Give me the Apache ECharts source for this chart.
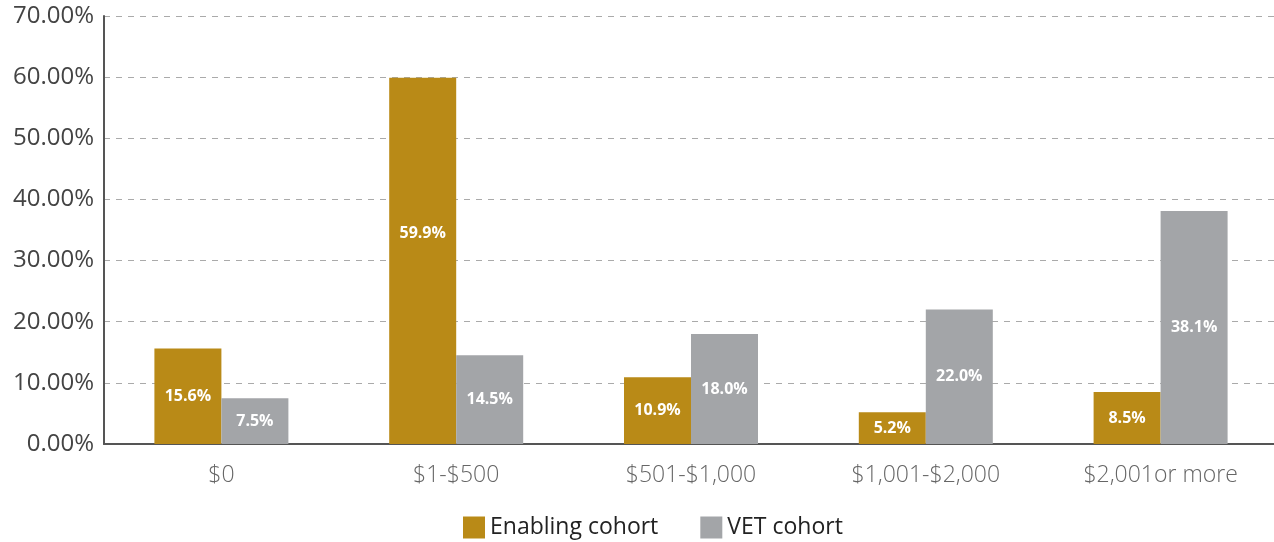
<!DOCTYPE html>
<html>
<head>
<meta charset="utf-8">
<script src="https://cdn.jsdelivr.net/npm/echarts@6/dist/echarts.min.js"></script>
<style>
  html, body { margin: 0; padding: 0; background: #fff; overflow: hidden; }
  #chart { width: 1280px; height: 542px; }
</style>
</head>
<body>
<div id="chart"></div>
<script>
const categories = ["$0", "$1-$500", "$501-$1,000", "$1,001-$2,000", "$2,001or more"];
const enablingCohort = [15.6, 59.9, 10.9, 5.2, 8.5];
const vetCohort = [7.5, 14.5, 18.0, 22.0, 38.1];

const chart = echarts.init(document.getElementById("chart"));

const barLabel = {
  show: true,
  position: "inside",
  color: "#fff",
  fontSize: 16,
  fontWeight: "bold",
  fontFamily: "Open Sans",
  formatter: (p) => p.value.toFixed(1) + "%",
};

// the tall bar's label sits a bit above the middle in the original
const enablingData = enablingCohort.map((v, i) =>
  i === 1 ? { value: v, label: { offset: [0, -27] } } : v
);

const option = {
  animation: false,
  textStyle: { fontFamily: "Open Sans" },
  grid: { left: 104, right: 2, top: 16, bottom: 98 },
  legend: {
    top: 511,
    left: 458,
    itemWidth: 22,
    itemHeight: 22,
    itemGap: 42,
    icon: "rect",
    textStyle: { fontSize: 23, color: "#222", fontFamily: "Open Sans" },
  },
  xAxis: {
    type: "category",
    data: categories,
    axisLine: { lineStyle: { color: "#555", width: 2 } },
    axisTick: { show: false },
    axisLabel: { fontSize: 23, color: "#666", margin: 20, fontWeight: 300 },
  },
  yAxis: {
    type: "value",
    min: 0,
    max: 70,
    interval: 10,
    axisLine: { show: true, lineStyle: { color: "#555", width: 2 } },
    axisTick: { show: false },
    axisLabel: {
      fontSize: 24,
      color: "#444",
      margin: 10,
      formatter: (v) => v.toFixed(2) + "%",
    },
    splitLine: { lineStyle: { color: "#aaa", type: [6, 6], width: 1 } },
  },
  series: [
    {
      name: "Enabling cohort",
      type: "bar",
      data: enablingData,
      barWidth: 67,
      barGap: "0%",
      itemStyle: { color: "#B98A17" },
      label: barLabel,
    },
    {
      name: "VET cohort",
      type: "bar",
      data: vetCohort,
      barWidth: 67,
      barGap: "0%",
      itemStyle: { color: "#A3A5A8" },
      label: barLabel,
    },
  ],
};

chart.setOption(option);
</script>
</body>
</html>
